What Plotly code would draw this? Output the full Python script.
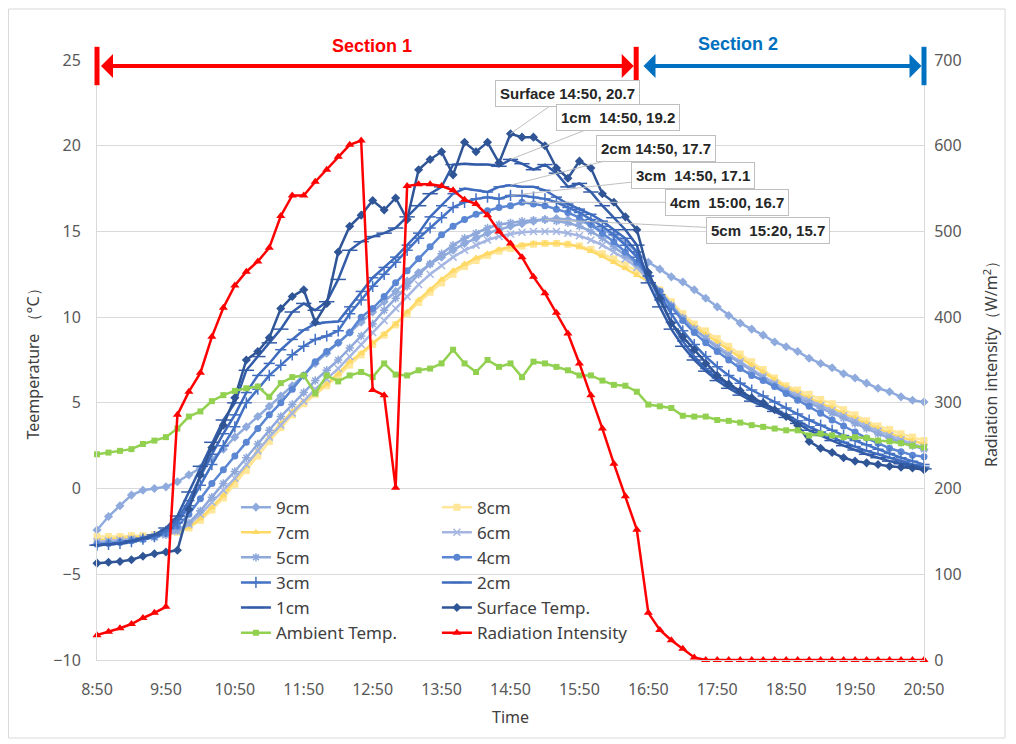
import plotly.graph_objects as go

# time categories, every 10 min from 8:50 to 20:50
TIMES = [
    "8:50", "9:00", "9:10", "9:20", "9:30", "9:40",
    "9:50", "10:00", "10:10", "10:20", "10:30", "10:40",
    "10:50", "11:00", "11:10", "11:20", "11:30", "11:40",
    "11:50", "12:00", "12:10", "12:20", "12:30", "12:40",
    "12:50", "13:00", "13:10", "13:20", "13:30", "13:40",
    "13:50", "14:00", "14:10", "14:20", "14:30", "14:40",
    "14:50", "15:00", "15:10", "15:20", "15:30", "15:40",
    "15:50", "16:00", "16:10", "16:20", "16:30", "16:40",
    "16:50", "17:00", "17:10", "17:20", "17:30", "17:40",
    "17:50", "18:00", "18:10", "18:20", "18:30", "18:40",
    "18:50", "19:00", "19:10", "19:20", "19:30", "19:40",
    "19:50", "20:00", "20:10", "20:20", "20:30", "20:40",
    "20:50",
]
TICK_LABELS = ["8:50", "9:50", "10:50", "11:50", "12:50", "13:50", "14:50",
               "15:50", "16:50", "17:50", "18:50", "19:50", "20:50"]

T_9CM = [-2.42, -1.63, -1.0, -0.38, -0.1, 0.0, 0.1, 0.4, 0.8, 1.2, 1.7, 2.3,
         3.0, 3.6, 4.2, 4.8, 5.4, 6.0, 6.6, 7.3, 7.9, 8.5, 9.1, 9.7,
         10.3, 10.9, 11.5, 12.1, 12.6, 13.1, 13.5, 13.9, 14.3, 14.6, 14.9, 15.1,
         15.3, 15.45, 15.6, 15.7, 15.75, 15.7, 15.6, 15.4, 15.1, 14.8, 14.4, 13.8,
         13.2, 12.8, 12.35, 12.05, 11.6, 11.1, 10.6, 10.1, 9.65, 9.3, 8.95, 8.55,
         8.27, 8.0, 7.6, 7.3, 7.05, 6.7, 6.45, 6.15, 5.85, 5.65, 5.35, 5.15,
         5.05]
T_8CM = [-2.8, -2.8, -2.8, -2.75, -2.75, -2.7, -2.65, -2.55, -2.3, -1.85, -1.25, -0.55,
         0.25, 1.05, 1.9, 2.75, 3.55, 4.3, 4.95, 5.5, 6.0, 6.55, 7.2, 7.8,
         8.4, 8.95, 9.55, 10.2, 10.85, 11.45, 12.0, 12.5, 12.95, 13.3, 13.6, 13.85,
         14.0, 14.15, 14.25, 14.3, 14.3, 14.25, 14.15, 13.95, 13.7, 13.4, 13.05, 12.7,
         12.3, 11.6, 10.9, 10.2, 9.6, 9.2, 8.75, 8.3, 7.85, 7.4, 6.95, 6.45,
         6.0, 5.75, 5.5, 5.2, 4.95, 4.6, 4.3, 3.95, 3.65, 3.45, 3.2, 3.0,
         2.8]
T_7CM = [-3.0, -2.95, -2.9, -2.85, -2.8, -2.75, -2.7, -2.55, -2.25, -1.75, -1.1, -0.4,
         0.5, 1.3, 2.2, 3.0, 3.8, 4.5, 5.1, 5.6, 6.1, 6.7, 7.4, 7.9,
         8.5, 9.0, 9.6, 10.3, 11.0, 11.6, 12.2, 12.7, 13.1, 13.45, 13.7, 13.95,
         14.1, 14.2, 14.3, 14.3, 14.3, 14.25, 14.1, 13.85, 13.55, 13.2, 12.85, 12.45,
         12.1, 11.4, 10.7, 10.0, 9.45, 9.0, 8.55, 8.1, 7.65, 7.2, 6.8, 6.35,
         5.9, 5.6, 5.3, 5.0, 4.7, 4.4, 4.1, 3.8, 3.5, 3.25, 3.0, 2.8,
         2.6]
T_6CM = [-3.1, -3.05, -3.0, -2.95, -2.9, -2.8, -2.7, -2.5, -2.1, -1.5, -0.8, -0.1,
         0.6, 1.4, 2.2, 3.0, 3.7, 4.4, 5.1, 5.8, 6.4, 7.0, 7.7, 8.4,
         9.1, 9.8, 10.5, 11.2, 11.9, 12.5, 13.0, 13.5, 13.9, 14.2, 14.5, 14.7,
         14.85, 14.95, 15.0, 15.0, 15.0, 14.9, 14.75, 14.5, 14.2, 13.8, 13.4, 12.9,
         12.2, 11.4, 10.6, 9.9, 9.3, 8.8, 8.3, 7.85, 7.4, 6.95, 6.55, 6.15,
         5.75, 5.45, 5.15, 4.85, 4.55, 4.25, 3.95, 3.65, 3.35, 3.1, 2.85, 2.6,
         2.4]
T_5CM = [-3.2, -3.15, -3.1, -3.0, -2.95, -2.85, -2.7, -2.45, -2.0, -1.3, -0.5, 0.3,
         1.0, 1.8, 2.6, 3.4, 4.2, 4.9, 5.6, 6.3, 6.9, 7.5, 8.2, 8.9,
         9.6, 10.4, 11.1, 11.8, 12.5, 13.1, 13.7, 14.2, 14.6, 14.9, 15.2, 15.4,
         15.5, 15.6, 15.65, 15.7, 15.6, 15.5, 15.3, 15.0, 14.6, 14.1, 13.6, 13.1,
         12.3, 11.5, 10.7, 9.95, 9.3, 8.75, 8.2, 7.75, 7.3, 6.85, 6.45, 6.05,
         5.65, 5.3, 5.0, 4.7, 4.4, 4.1, 3.8, 3.5, 3.2, 2.95, 2.7, 2.5,
         2.3]
T_4CM = [-3.25, -3.2, -3.15, -3.05, -2.95, -2.8, -2.6, -2.2, -1.5, -0.6, 0.3, 1.1,
         1.9, 2.7, 3.5, 4.3, 5.0, 5.8, 6.6, 7.4, 8.0, 8.5, 9.1, 10.0,
         10.5, 11.2, 12.0, 12.7, 13.4, 14.1, 14.8, 15.3, 15.7, 16.0, 16.2, 16.4,
         16.5, 16.7, 16.6, 16.5, 16.3, 16.1, 15.8, 15.4, 14.9, 14.4, 13.8, 13.2,
         12.4, 11.5, 10.6, 9.8, 9.1, 8.5, 8.0, 7.5, 7.0, 6.6, 6.3, 5.95,
         5.55, 5.15, 4.8, 4.4, 4.0, 3.65, 3.3, 2.95, 2.65, 2.35, 2.15, 1.95,
         1.85]
T_3CM = [-3.3, -3.25, -3.2, -3.1, -2.95, -2.8, -2.5, -2.0, -1.0, 0.2, 1.4, 2.5,
         3.6, 5.0, 5.8, 6.6, 7.2, 7.8, 8.3, 8.7, 8.9, 9.2, 10.2, 11.0,
         11.8, 12.5, 13.2, 13.9, 14.6, 15.2, 15.8, 16.4, 16.7, 16.9, 17.0, 16.9,
         17.1, 17.1, 17.0, 16.9, 16.7, 16.4, 16.1, 15.7, 15.3, 14.8, 14.2, 13.5,
         12.4, 11.3, 10.2, 9.2, 8.4, 7.7, 7.1, 6.6, 6.15, 5.75, 5.4, 5.05,
         4.7, 4.35, 4.0, 3.7, 3.4, 3.1, 2.8, 2.55, 2.3, 2.05, 1.8, 1.6,
         1.4]
T_2CM = [-3.3, -3.25, -3.2, -3.1, -2.95, -2.75, -2.4, -1.8, -0.7, 0.7, 2.0, 3.2,
         4.3, 5.6, 6.6, 7.3, 8.1, 8.7, 9.25, 9.6, 9.7, 9.75, 10.6, 11.5,
         12.3, 12.9, 13.5, 14.2, 14.9, 15.85, 16.5, 17.2, 17.5, 17.4, 17.3, 17.6,
         17.7, 17.6, 17.6, 17.4, 17.0, 16.6, 16.3, 16.0, 15.6, 15.1, 14.6, 13.8,
         12.4, 11.0, 9.7, 8.6, 7.7, 7.0, 6.45, 6.0, 5.6, 5.25, 4.95, 4.65,
         4.3, 3.95, 3.6, 3.3, 3.0, 2.7, 2.45, 2.2, 2.0, 1.8, 1.6, 1.4,
         1.25]
T_1CM = [-3.3, -3.25, -3.2, -3.05, -2.9, -2.7, -2.3, -1.6, -0.2, 1.3, 2.7, 4.0,
         5.0, 6.9, 7.7, 8.5, 9.3, 10.3, 10.8, 10.4, 10.9, 12.2, 13.9, 14.4,
         14.7, 14.9, 15.2, 15.85, 16.5, 17.2, 17.6, 18.9, 18.95, 18.9, 18.9, 18.8,
         19.2, 18.95, 18.6, 18.9, 18.4, 17.6, 17.8, 17.3, 16.5, 15.8, 15.1, 14.2,
         12.0, 10.6, 9.3, 8.3, 7.5, 6.85, 6.3, 5.85, 5.45, 5.1, 4.8, 4.5,
         4.15, 3.8, 3.4, 3.1, 2.8, 2.5, 2.25, 2.0, 1.8, 1.6, 1.45, 1.3,
         1.15]
T_SURF = [-4.35, -4.3, -4.25, -4.15, -3.95, -3.8, -3.7, -3.6, -1.2, 0.8, 2.4, 3.7,
          5.3, 7.5, 8.0, 8.8, 10.5, 11.2, 11.6, 9.7, 10.8, 13.8, 15.3, 15.95,
          16.8, 16.25, 16.95, 15.7, 18.6, 19.2, 19.65, 18.3, 20.2, 19.65, 20.2, 19.0,
          20.7, 20.5, 20.5, 20.0, 18.7, 18.1, 19.1, 18.7, 17.2, 16.7, 15.85, 15.1,
          12.6, 11.1, 9.65, 8.85, 8.1, 7.3, 6.6, 6.1, 5.7, 5.3, 5.0, 4.6,
          4.2, 3.7, 2.75, 2.35, 2.1, 1.8, 1.6, 1.5, 1.4, 1.3, 1.25, 1.2,
          1.1]
T_AMB = [2.0, 2.1, 2.2, 2.3, 2.6, 2.8, 3.0, 3.5, 4.2, 4.5, 5.1, 5.45,
         5.7, 5.85, 5.95, 5.35, 6.15, 6.5, 6.6, 5.55, 6.6, 6.25, 6.6, 6.8,
         6.5, 7.3, 6.65, 6.6, 6.9, 7.0, 7.3, 8.1, 7.3, 6.8, 7.5, 7.1,
         7.3, 6.5, 7.4, 7.3, 7.1, 6.9, 6.6, 6.6, 6.3, 6.05, 6.0, 5.65,
         4.9, 4.8, 4.7, 4.25, 4.2, 4.2, 4.0, 3.95, 3.85, 3.7, 3.6, 3.5,
         3.4, 3.4, 3.1, 3.2, 3.1, 3.0, 3.0, 2.95, 2.8, 2.75, 2.65, 2.5,
         2.4]
RADIATION = [29, 33, 37, 42, 49, 55, 62, 286, 313, 335, 377, 411,
             437, 453, 465, 481, 518, 542, 542, 558, 572, 587, 601, 606,
             315, 309, 201, 553, 555, 555, 553, 548, 537, 532, 519, 500,
             486, 470, 447, 428, 405, 381, 346, 309, 270, 229, 191, 152,
             55, 35, 23, 13, 3, 0, 0, 0, 0, 0, 0, 0,
             0, 0, 0, 0, 0, 0, 0, 0, 0, 0, 0, 0,
             0]

FONT = "Noto Sans, Open Sans, sans-serif"
NARROW = "Liberation Sans Narrow, Liberation Sans, sans-serif"

# name, values, colour, marker symbol, marker size, legend column
series = [
    ("9cm", T_9CM, "#8FAADC", "diamond", 7, "legend"),
    ("8cm", T_8CM, "#FFE699", "square", 7, "legend2"),
    ("7cm", T_7CM, "#FFD966", "triangle-up", 7, "legend"),
    ("6cm", T_6CM, "#A5B6E2", "x-thin-open", 7, "legend2"),
    ("5cm", T_5CM, "#8EA8DB", "asterisk-open", 7, "legend"),
    ("4cm", T_4CM, "#5A86D3", "circle", 7, "legend2"),
    ("3cm", T_3CM, "#4472C4", "cross-thin-open", 8, "legend"),
    ("2cm", T_2CM, "#3E6BBD", "line-ew-open", 8, "legend2"),
    ("1cm", T_1CM, "#335CA8", "line-ew-open", 11, "legend"),
    ("Surface Temp.", T_SURF, "#2F5597", "diamond", 7, "legend2"),
    ("Ambient Temp.", T_AMB, "#92D050", "square", 6, "legend"),
]

fig = go.Figure()
for name, vals, col, sym, size, leg in series:
    open_sym = sym.endswith("-open")
    fig.add_trace(go.Scatter(
        x=TIMES, y=vals, name=name, mode="lines+markers",
        line=dict(color=col, width=2.5),
        marker=dict(symbol=sym, size=size, color=col,
                    line=dict(color=col, width=1.5 if open_sym else 0)),
        legend=leg, legendgroup=name, cliponaxis=False,
    ))

fig.add_trace(go.Scatter(
    x=TIMES, y=RADIATION, name="Radiation Intensity", mode="lines+markers",
    line=dict(color="#FF0000", width=2.5),
    marker=dict(symbol="triangle-up", size=8, color="#FF0000"),
    yaxis="y2", legend="legend2", legendgroup="rad", cliponaxis=False,
))

# data callouts
callouts = [
    ("Surface 14:50, 20.7", 36, T_SURF, 57, -40),
    ("1cm  14:50, 19.2", 36, T_1CM, 107, -42),
    ("2cm 14:50, 17.7", 36, T_2CM, 145, -37),
    ("3cm  14:50, 17.1", 36, T_3CM, 182, -20),
    ("4cm  15:00, 16.7", 37, T_4CM, 205, 0),
    ("5cm  15:20, 15.7", 39, T_5CM, 223, 11),
]
for text, i, vals, ax, ay in callouts:
    fig.add_annotation(
        x=TIMES[i], y=vals[i], xref="x", yref="y", text="<b>%s</b>" % text,
        showarrow=True, arrowhead=0, arrowwidth=1, arrowcolor="#BFBFBF",
        ax=ax, ay=ay, axref="pixel", ayref="pixel",
        bgcolor="white", bordercolor="#BFBFBF", borderwidth=1, borderpad=4,
        font=dict(family=NARROW, size=15, color="#262626"),
    )

# section arrows
SEC_Y = 0.99
SPLIT = 0.652
for x0, x1, col in [(0.0, SPLIT, "#FF0000"), (SPLIT + 0.004, 1.0, "#0070C0")]:
    fig.add_annotation(
        x=x1 - 0.003, y=SEC_Y, ax=x0 + 0.003, ay=SEC_Y,
        xref="x domain", yref="y domain", axref="x domain", ayref="y domain",
        text="", showarrow=True, arrowhead=1, arrowside="end+start",
        arrowwidth=4, arrowsize=1, arrowcolor=col, standoff=0, startstandoff=0,
    )
for xb, col in [(0.0, "#FF0000"), (SPLIT, "#FF0000"), (1.0, "#0070C0")]:
    fig.add_shape(type="line", xref="x domain", yref="y domain",
                  x0=xb, x1=xb, y0=0.958, y1=1.022,
                  line=dict(color=col, width=5))
fig.add_annotation(x=0.282, y=1.023, xref="x domain", yref="y domain",
                   text="<b>Section 1</b>", showarrow=False, yanchor="middle",
                   font=dict(family=NARROW, size=18, color="#FF0000"))
fig.add_annotation(x=0.826, y=1.027, xref="x domain", yref="y domain",
                   text="<b>Section 2</b>", showarrow=False, yanchor="middle",
                   font=dict(family=NARROW, size=18, color="#0070C0"))

# chart border
fig.add_shape(type="rect", xref="paper", yref="paper",
              x0=-0.107, x1=1.098, y0=-0.13, y1=1.085,
              line=dict(color="#D9D9D9", width=1))

legend_common = dict(
    font=dict(family=FONT, size=17, color="#404040"),
    bgcolor="rgba(0,0,0,0)", tracegroupgap=0, itemwidth=30,
    yanchor="top", xanchor="left", traceorder="grouped",
)
fig.update_layout(
    width=1016, height=744,
    margin=dict(l=89, r=100, t=52, b=92),
    plot_bgcolor="white", paper_bgcolor="white",
    font=dict(family=FONT, size=16, color="#595959"),
    xaxis=dict(
        type="category", range=[0, 72], tickmode="array",
        tickvals=TICK_LABELS, ticktext=TICK_LABELS,
        showgrid=False, showline=True, linecolor="#D9D9D9", ticks="",
        ticklabelstandoff=15,
        title=dict(text="Time", font=dict(size=16, color="#404040"), standoff=12),
        tickfont=dict(size=16, color="#595959"),
    ),
    yaxis=dict(
        range=[-10, 25], dtick=5, showgrid=True, gridcolor="#D9D9D9",
        zeroline=False, showline=True, linecolor="#D9D9D9", ticks="",
        ticklabelstandoff=12,
        title=dict(text="Teemperature （°C）", font=dict(size=16, color="#404040"), standoff=9),
        tickfont=dict(size=16, color="#595959"),
    ),
    yaxis2=dict(
        range=[0, 700], dtick=100, overlaying="y", side="right",
        showgrid=False, zeroline=False, showline=True, linecolor="#D9D9D9",
        ticks="", ticklabelstandoff=6,
        title=dict(text="Radiation intensity（W/m<sup>2</sup>）", font=dict(size=16, color="#404040"), standoff=25),
        tickfont=dict(size=16, color="#595959"),
    ),
    legend=dict(x=0.168, y=0.284, **legend_common),
    legend2=dict(x=0.411, y=0.284, **legend_common),
)

fig.write_html("out.html")
